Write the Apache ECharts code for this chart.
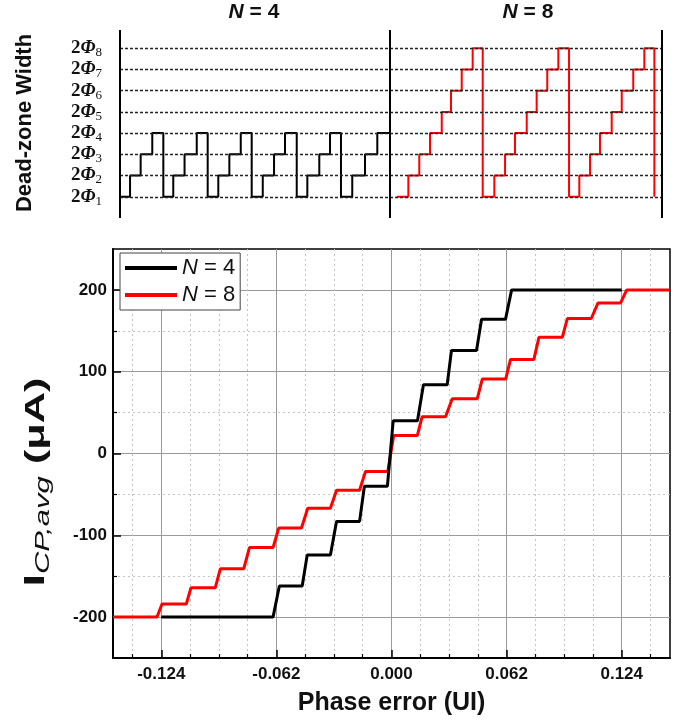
<!DOCTYPE html>
<html>
<head>
<meta charset="utf-8">
<script src="https://cdn.jsdelivr.net/npm/echarts@6/dist/echarts.min.js"></script>
<style>
  html, body { margin: 0; padding: 0; background: #fff; }
  #chart { width: 687px; height: 722px; }
</style>
</head>
<body>
<div id="chart"></div>
<script>
// ---- Dead-zone width sequence (time in step units, dead-zone level 1..8) ----
const n4Time  = [0, 0.89, 1.83, 2.86, 3.84, 4.72, 5.72, 6.80, 7.77, 8.71, 9.69, 10.70,
                 11.67, 12.65, 13.65, 14.62, 15.66, 16.60, 17.66, 18.61, 19.58, 20.58, 21.71, 22.80, 23.93];
const n4Level = [1, 2, 3, 4, 1, 2, 3, 4, 1, 2, 3, 4,
                 1, 2, 3, 4, 1, 2, 3, 4, 1, 2, 3, 4, 4];
const n8Time  = [24.52, 25.55, 26.52, 27.47, 28.51, 29.33, 30.28, 31.25,
                 32.14, 33.17, 34.12, 35.00, 36.04, 36.92, 37.86, 38.84,
                 39.79, 40.70, 41.65, 42.53, 43.57, 44.46, 45.48, 46.46, 47.35];
const n8Level = [1, 2, 3, 4, 5, 6, 7, 8,
                 1, 2, 3, 4, 5, 6, 7, 8,
                 1, 2, 3, 4, 5, 6, 7, 8, 1];
const deadZoneLevels = [1, 2, 3, 4, 5, 6, 7, 8];
const panelDividers = [0, 23.93, 48];
const panelTitles = ['N = 4', 'N = 8'];

// ---- Average charge-pump current vs phase error ----
const n4Phase   = [-0.124, -0.0638, -0.0604, -0.0481, -0.0454, -0.0329, -0.0296, -0.0172, -0.0146,
                   -0.0022, 0.0009, 0.0140, 0.0172, 0.0300, 0.0323, 0.0458, 0.0485, 0.0614, 0.0647, 0.124];
const n4Current = [-200, -200, -162, -162, -124, -124, -83, -83, -40,
                   -40, 40, 40, 84, 84, 126, 126, 164, 164, 200, 200];
const n8Phase   = [-0.15, -0.1263, -0.1236, -0.1105, -0.108, -0.0949, -0.0922, -0.0796, -0.0765,
                   -0.0638, -0.0607, -0.0485, -0.0451, -0.0329, -0.0296, -0.0172, -0.014, -0.002,
                   0.0012, 0.0139, 0.0165, 0.0291, 0.0327, 0.0462, 0.0489, 0.0615, 0.0641,
                   0.0767, 0.0794, 0.092, 0.0947, 0.1076, 0.1112, 0.1234, 0.1267, 0.15];
const n8Current = [-200, -200, -184, -184, -164, -164, -141, -141, -115,
                   -115, -91, -91, -67, -67, -45, -45, -22, -22,
                   22, 22, 45, 45, 67, 67, 91, 91, 115,
                   115, 142, 142, 165, 165, 184, 184, 200, 200];
const phaseMajorTicks = [-0.124, -0.062, 0, 0.062, 0.124];
const phaseMinorTicks = [-0.1395, -0.1085, -0.093, -0.0775, -0.0465, -0.031, -0.0155,
                         0.0155, 0.031, 0.0465, 0.0775, 0.093, 0.1085, 0.1395];
const currentMajorTicks = [-200, -100, 0, 100, 200];
const currentMinorTicks = [-150, -50, 50, 150];
const seriesNames = ['N = 4', 'N = 8'];
const seriesColors = ['#000000', '#ff0000'];

const SANS = '"Liberation Sans", Arial, sans-serif';
const SERIF = '"Liberation Serif", "Times New Roman", serif';

const zip = (xs, ys) => xs.map((x, i) => [x, ys[i]]);
const italicN = s => s.replace('N', '{i|N}');

const chart = echarts.init(document.getElementById('chart'), null, { renderer: 'canvas' });

const levelMarks = deadZoneLevels.map(l => ({
  yAxis: l,
  lineStyle: { color: '#222', width: 1.3, type: [3, 2] }
}));
const dividerMarks = panelDividers.map(d => ({
  xAxis: d,
  lineStyle: { color: '#000', width: 2, type: 'solid' }
}));

const option = {
  animation: false,
  backgroundColor: '#fff',
  grid: [
    { left: 120, right: 25.3, top: 30, bottom: 504 },
    { left: 113, right: 17, top: 249, bottom: 64, show: true, borderColor: '#000', borderWidth: 1.5 }
  ],
  xAxis: [
    { gridIndex: 0, type: 'value', min: 0, max: 48, show: false },
    {
      gridIndex: 1, type: 'value', min: -0.15, max: 0.15, position: 'bottom',
      axisLine: { show: true, onZero: false, lineStyle: { color: '#000', width: 2 } },
      axisTick: { show: true, inside: true, length: 8, customValues: phaseMajorTicks,
                  lineStyle: { color: '#000', width: 1.5 } },
      axisLabel: { customValues: phaseMajorTicks, formatter: v => v.toFixed(3),
                   fontFamily: SANS, fontWeight: 'bold', fontSize: 17, color: '#111', margin: 8 },
      splitLine: { show: true, lineStyle: { color: '#9a9a9a', width: 1 } },
      name: 'Phase error (UI)', nameLocation: 'middle', nameGap: 33,
      nameTextStyle: { fontFamily: SANS, fontWeight: 'bold', fontSize: 25, color: '#111' }
    },
    {
      gridIndex: 1, type: 'value', min: -0.15, max: 0.15, position: 'bottom',
      axisLine: { show: false, onZero: false },
      axisTick: { show: true, inside: true, length: 4, customValues: phaseMinorTicks,
                  lineStyle: { color: '#000', width: 1.2 } },
      axisLabel: { show: false },
      splitLine: { show: true, lineStyle: { color: '#c4c4c4', width: 1, type: [2, 3] } }
    }
  ],
  yAxis: [
    {
      gridIndex: 0, type: 'value', min: 0, max: 8.86, interval: 1,
      axisLine: { show: false }, axisTick: { show: false }, splitLine: { show: false },
      axisLabel: {
        margin: 18,
        formatter: v => (deadZoneLevels.indexOf(v) >= 0 ? '{d|2}{p|Φ}{s|' + v + '}' : ''),
        rich: {
          d: { fontFamily: SERIF, fontWeight: 'bold', fontSize: 19, color: '#111' },
          p: { fontFamily: SERIF, fontWeight: 'bold', fontStyle: 'italic', fontSize: 19, color: '#111' },
          s: { fontFamily: SERIF, fontSize: 13, color: '#111', padding: [9, 0, 0, 0] }
        }
      }
    },
    {
      gridIndex: 1, type: 'value', min: -250, max: 250, position: 'left',
      axisLine: { show: true, onZero: false, lineStyle: { color: '#000', width: 2 } },
      axisTick: { show: true, inside: true, length: 8, customValues: currentMajorTicks,
                  lineStyle: { color: '#000', width: 1.5 } },
      axisLabel: { customValues: currentMajorTicks, fontFamily: SANS, fontWeight: 'bold',
                   fontSize: 17, color: '#111', margin: 6 },
      splitLine: { show: true, lineStyle: { color: '#9a9a9a', width: 1 } }
    },
    {
      gridIndex: 1, type: 'value', min: -250, max: 250, position: 'left',
      axisLine: { show: false, onZero: false },
      axisTick: { show: true, inside: true, length: 4, customValues: currentMinorTicks,
                  lineStyle: { color: '#000', width: 1.2 } },
      axisLabel: { show: false },
      splitLine: { show: true, lineStyle: { color: '#c4c4c4', width: 1, type: [2, 3] } }
    }
  ],
  legend: {
    data: seriesNames,
    left: 120, top: 253,
    orient: 'vertical',
    icon: 'rect',
    itemWidth: 52, itemHeight: 4, itemGap: 5,
    padding: [4, 5, 4, 5],
    backgroundColor: '#fff',
    borderColor: '#444', borderWidth: 1,
    formatter: name => italicN(name),
    textStyle: {
      fontFamily: SANS, fontSize: 22, color: '#111', lineHeight: 22,
      rich: { i: { fontFamily: SANS, fontSize: 22, fontStyle: 'italic', color: '#111' } }
    }
  },
  series: [
    {
      name: 'Dead-zone ' + seriesNames[0], type: 'line', xAxisIndex: 0, yAxisIndex: 0,
      step: 'end', symbol: 'none', data: zip(n4Time, n4Level),
      lineStyle: { color: seriesColors[0], width: 2 }, z: 4,
      markLine: {
        silent: true, symbol: ['none', 'none'], label: { show: false },
        data: levelMarks.concat(dividerMarks)
      }
    },
    {
      name: 'Dead-zone ' + seriesNames[1], type: 'line', xAxisIndex: 0, yAxisIndex: 0,
      step: 'end', symbol: 'none', data: zip(n8Time, n8Level),
      lineStyle: { color: seriesColors[1], width: 2 }, z: 4
    },
    {
      name: seriesNames[1], type: 'line', xAxisIndex: 1, yAxisIndex: 1,
      symbol: 'none', data: zip(n8Phase, n8Current),
      lineStyle: { color: seriesColors[1], width: 3 }, itemStyle: { color: seriesColors[1] }, z: 3
    },
    {
      name: seriesNames[0], type: 'line', xAxisIndex: 1, yAxisIndex: 1,
      symbol: 'none', data: zip(n4Phase, n4Current),
      lineStyle: { color: seriesColors[0], width: 3 }, itemStyle: { color: seriesColors[0] }, z: 4
    }
  ],
  graphic: [
    {
      type: 'text', x: 254, y: 12, z: 10,
      style: {
        text: italicN(panelTitles[0]), align: 'center', verticalAlign: 'middle',
        fontFamily: SANS, fontWeight: 'bold', fontSize: 21, fill: '#111',
        rich: { i: { fontFamily: SANS, fontWeight: 'bold', fontStyle: 'italic', fontSize: 21, fill: '#111' } }
      }
    },
    {
      type: 'text', x: 528, y: 12, z: 10,
      style: {
        text: italicN(panelTitles[1]), align: 'center', verticalAlign: 'middle',
        fontFamily: SANS, fontWeight: 'bold', fontSize: 21, fill: '#111',
        rich: { i: { fontFamily: SANS, fontWeight: 'bold', fontStyle: 'italic', fontSize: 21, fill: '#111' } }
      }
    },
    {
      type: 'text', x: 25, y: 123, rotation: Math.PI / 2, z: 10,
      style: {
        text: 'Dead-zone Width', align: 'center', verticalAlign: 'middle',
        fontFamily: SANS, fontWeight: 'bold', fontSize: 22, fill: '#111'
      }
    },
    {
      type: 'text', x: 36, y: 482, rotation: Math.PI / 2, scaleX: 1.55, z: 10,
      style: {
        text: '{b|I}{s|CP,avg}{u| (μA)}', align: 'center', verticalAlign: 'middle',
        fontFamily: SANS, fontSize: 27, fill: '#111',
        rich: {
          b: { fontFamily: SANS, fontWeight: 'bold', fontSize: 29, fill: '#111' },
          s: { fontFamily: SANS, fontStyle: 'italic', fontSize: 20, fill: '#111', padding: [14, 0, 0, 0] },
          u: { fontFamily: SANS, fontWeight: 'bold', fontSize: 28, fill: '#111' }
        }
      }
    }
  ]
};

chart.setOption(option);
</script>
</body>
</html>
